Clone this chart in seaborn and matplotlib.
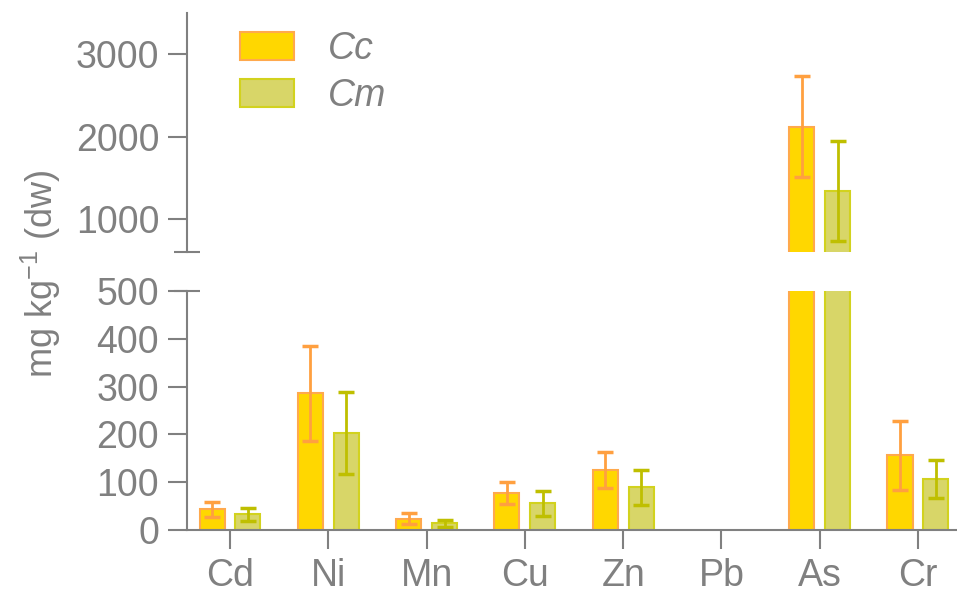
import numpy as np
import pandas as pd
import matplotlib
matplotlib.use("Agg")
import matplotlib.pyplot as plt
import seaborn as sns

# Data (mean and error, mg/kg dw)
metals = ["Cd", "Ni", "Mn", "Cu", "Zn", "Pb", "As", "Cr"]
groups = ["Cc", "Cm"]
cc_mean = [43, 286, 24, 77, 125, np.nan, 2120, 156]
cc_err = [15, 99, 11, 23, 38, np.nan, 614, 72]
cm_mean = [33, 203, 14, 56, 89, np.nan, 1340, 106]
cm_err = [14, 86, 8, 26, 36, np.nan, 612, 40]

top_ticks = [1000, 2000, 3000]
bot_ticks = [0, 100, 200, 300, 400, 500]

fill_colors = ["#FFD700", "#D8D668"]
edge_colors = ["#FFA94D", "#D2D21E"]
err_colors = ["#FFA040", "#BFBF00"]
gray = "#808080"

df = pd.DataFrame({
    "metal": metals * 2,
    "group": [groups[0]] * len(metals) + [groups[1]] * len(metals),
    "mean": cc_mean + cm_mean,
    "err": cc_err + cm_err,
}).dropna()

sns.set_theme(style="white")
plt.rcParams["font.family"] = ["Liberation Sans", "DejaVu Sans"]
plt.rcParams["mathtext.default"] = "regular"

fig = plt.figure(figsize=(9.57, 5.95), dpi=100)
ax_top = fig.add_axes([0.1954, 0.5765, 0.8046, 0.4017])
ax_bot = fig.add_axes([0.1954, 0.1092, 0.8046, 0.4017])

for ax in (ax_top, ax_bot):
    sns.barplot(
        data=df,
        x="metal",
        y="mean",
        hue="group",
        order=metals,
        hue_order=groups,
        palette=fill_colors,
        saturation=1,
        width=0.73,
        gap=0.3,
        errorbar=None,
        legend=False,
        ax=ax,
    )

    bar_sets = list(ax.containers)
    for i, g in enumerate(groups):
        sub = df[df["group"] == g]
        for b in bar_sets[i]:
            b.set_edgecolor(edge_colors[i])
            b.set_linewidth(1.5)
        xs = [b.get_x() + b.get_width() / 2 for b in bar_sets[i]]
        ax.errorbar(
            xs,
            sub["mean"],
            yerr=sub["err"],
            fmt="none",
            ecolor=err_colors[i],
            elinewidth=2,
            capsize=6,
            capthick=2.5,
        )

    ax.set_xlim(-0.4375, 7.397)
    ax.set_xlabel("")
    ax.set_ylabel("")
    sns.despine(ax=ax)
    for side in ("left", "bottom"):
        ax.spines[side].set_color(gray)
        ax.spines[side].set_linewidth(1.5)
    ax.tick_params(
        axis="y",
        length=14,
        width=1.5,
        color=gray,
        labelcolor=gray,
        labelsize=27,
        pad=6,
        left=True,
    )

# Top part of the broken axis
ax_top.set_ylim(600, 3500)
ax_top.set_yticks(top_ticks)
ax_top.spines["bottom"].set_visible(False)
ax_top.tick_params(axis="x", bottom=False, labelbottom=False)

# Bottom part
ax_bot.set_ylim(0, 500)
ax_bot.set_yticks(bot_ticks)
ax_bot.tick_params(
    axis="x",
    bottom=True,
    length=14,
    width=1.5,
    color=gray,
    labelcolor=gray,
    labelsize=27,
    pad=6,
)

# Break marks
ax_top.plot([0], [0], transform=ax_top.transAxes, marker="_",
            ms=18.5, mew=1.5, color=gray, clip_on=False)
ax_bot.plot([0], [1], transform=ax_bot.transAxes, marker="_",
            ms=18.5, mew=1.5, color=gray, clip_on=False)

# Legend
ax_top.legend(
    ax_top.containers[:2],
    groups,
    loc="upper left",
    bbox_to_anchor=(0.0688, 0.925),
    frameon=False,
    borderpad=0,
    borderaxespad=0,
    handlelength=1.45,
    handleheight=0.78,
    handletextpad=0.9,
    labelspacing=0.3,
    labelcolor=gray,
    prop={"style": "italic", "size": 27},
)

fig.text(0.043, 1 - 274 / 595, "mg kg$^{-1}$ (dw)", rotation=90,
         ha="center", va="center", fontsize=26, color=gray)

fig.savefig("out.png", dpi=100)
